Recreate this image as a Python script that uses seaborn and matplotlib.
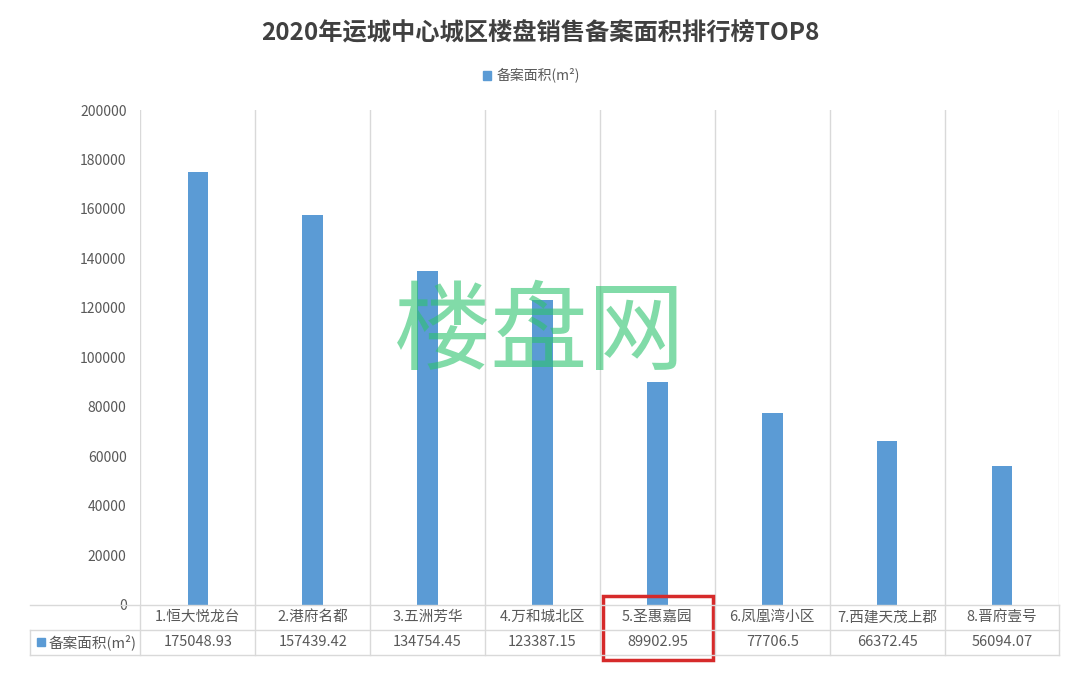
import matplotlib
matplotlib.use("Agg")
import matplotlib.pyplot as plt
import matplotlib.transforms as mtransforms
from matplotlib.patches import Rectangle
import seaborn as sns
import pandas as pd

plt.rcParams["font.family"] = ["Noto Sans CJK SC", "DejaVu Sans"]

TITLE = "2020年运城中心城区楼盘销售备案面积排行榜TOP8"
SERIES = "备案面积(m²)"
NAMES = ["1.恒大悦龙台", "2.港府名都", "3.五洲芳华", "4.万和城北区",
         "5.圣惠嘉园", "6.凤凰湾小区", "7.西建天茂上郡", "8.晋府壹号"]
AREAS = [175048.93, 157439.42, 134754.45, 123387.15,
         89902.95, 77706.5, 66372.45, 56094.07]
AREA_LABELS = ["175048.93", "157439.42", "134754.45", "123387.15",
               "89902.95", "77706.5", "66372.45", "56094.07"]
YTICKS = list(range(0, 200001, 20000))

BLUE = "#5b9bd5"
GRID = "#d9d9d9"
TXT = "#595959"

df = pd.DataFrame({"name": NAMES, "area": AREAS})

fig = plt.figure(figsize=(10.8, 6.75), dpi=100)
ax = fig.add_axes([0.13, 0.104, 0.851, 0.733])
sns.barplot(data=df, x="name", y="area", color=BLUE, width=0.18, saturation=1, ax=ax)
ax.set_xlim(-0.5, len(NAMES) - 0.5)
ax.set_ylim(0, 200000)
ax.set_yticks(YTICKS)
ax.set_yticklabels([str(v) for v in YTICKS], color=TXT, fontsize=10)
ax.tick_params(axis="y", length=0, pad=10)
ax.set_xticks([])
ax.set_xlabel("")
ax.set_ylabel("")
for s in ax.spines.values():
    s.set_visible(False)
for i in range(len(NAMES) + 1):
    ax.axvline(i - 0.5, color=GRID, lw=1, zorder=0)

# data table below the axis
bt = mtransforms.blended_transform_factory(ax.transData, ax.transAxes)
rh = 25 / 495
ax.plot([-0.12, 1], [0, 0], transform=ax.transAxes, color=GRID, lw=1, clip_on=False)
ax.plot([-0.12, 1], [-rh, -rh], transform=ax.transAxes, color=GRID, lw=1, clip_on=False)
ax.plot([-0.12, 1], [-2 * rh, -2 * rh], transform=ax.transAxes, color=GRID, lw=1, clip_on=False)
ax.plot([-0.12, -0.12], [-rh, -2 * rh], transform=ax.transAxes, color=GRID, lw=1, clip_on=False)
for i in range(len(NAMES) + 1):
    ax.plot([i - 0.5, i - 0.5], [0, -2 * rh], transform=bt, color=GRID, lw=1, clip_on=False)
for i, (n, v) in enumerate(zip(NAMES, AREA_LABELS)):
    ax.text(i, -rh / 2, n, transform=bt, ha="center", va="center", fontsize=10.5, color=TXT)
    ax.text(i, -1.5 * rh, v, transform=bt, ha="center", va="center", fontsize=10.5, color=TXT)
ax.add_patch(Rectangle((-0.112, -1.5 * rh - 0.008), 0.008, 0.016, transform=ax.transAxes,
                       color=BLUE, clip_on=False))
ax.text(-0.1, -1.5 * rh, SERIES, transform=ax.transAxes, ha="left", va="center",
        fontsize=10.5, color=TXT)
ax.add_patch(Rectangle((3.53, -2 * rh - 0.01), 0.95, 2 * rh + 0.028, transform=bt, fill=False,
                       edgecolor="#d62a2a", lw=2.5, clip_on=False))

fig.text(0.5, 0.952, TITLE, ha="center", va="center", fontsize=17.5, fontweight="bold", color="#404040")
fig.patches.append(Rectangle((0.447, 0.882), 0.008, 0.013, transform=fig.transFigure, color=BLUE))
fig.text(0.46, 0.889, SERIES, ha="left", va="center", fontsize=10, color=TXT)

fig.text(0.5, 0.505, "楼盘网", ha="center", va="center", fontsize=70, color="#2ec36e", alpha=0.6)

fig.savefig("out.png", dpi=100, facecolor="white")
